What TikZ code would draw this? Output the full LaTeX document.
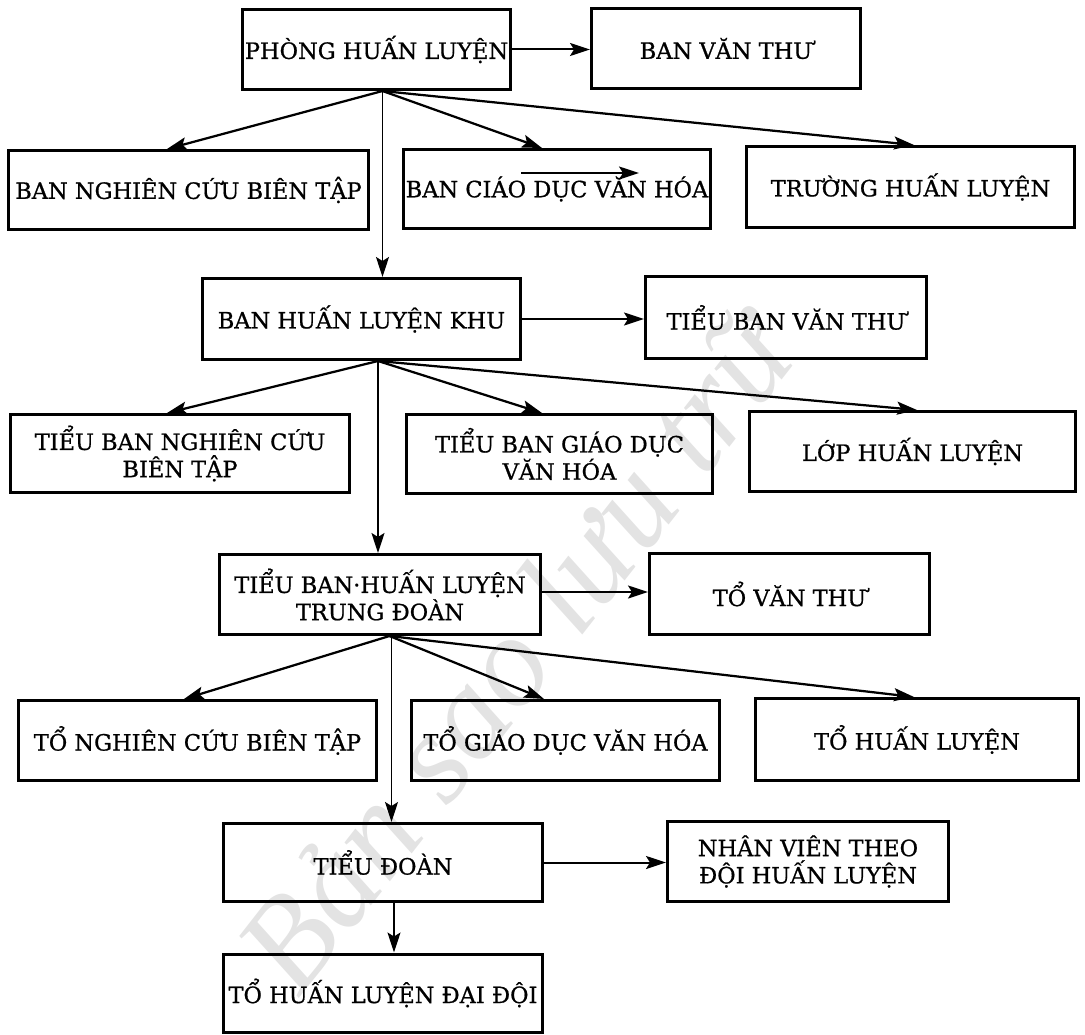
\documentclass[tikz,border=0pt]{standalone}
\usepackage{fontspec}
\setmainfont{DejaVu Serif}[BoldFont={DejaVu Serif}, BoldFeatures={FakeBold=0.8}]
\newfontfamily\wmfont{Liberation Serif}
\usetikzlibrary{arrows.meta}

\begin{document}
\begin{tikzpicture}[
  x=1cm, y=1cm,
  unit/.style={draw, line width=0.06cm, inner sep=1pt, align=center,
    font=\bfseries\fontsize{12.8}{15.5}\selectfont},
  tip/.style={-{Stealth[length=0.40cm, width=0.26cm, inset=0.08cm]}},
  fan/.style={tip, line width=0.045cm},
  down/.style={tip, line width=0.03cm},
  side/.style={tip, line width=0.04cm},
]
\useasboundingbox (0,0) rectangle (21.7,-20.7);

% watermark behind the chart
\node[rotate=52, text=black!11, font=\wmfont\itshape\fontsize{74}{80}\selectfont]
  (wm) at (10.3,-13.0) {Bản sao lưu trữ};

% level 1
\node[unit, minimum width=5.36cm, minimum height=1.60cm] (phong) at (7.53,-0.99) {PHÒNG HUẤN LUYỆN};
\node[unit, minimum width=5.38cm, minimum height=1.60cm] (vt1) at (14.52,-0.97) {BAN VĂN THƯ};
\node[unit, minimum width=7.20cm, minimum height=1.58cm] (nc1) at (3.77,-3.80) {BAN NGHIÊN CỨU BIÊN TẬP};
\node[unit, minimum width=6.14cm, minimum height=1.58cm] (gd1) at (11.14,-3.78) {BAN CIÁO DỤC VĂN HÓA};
\node[unit, minimum width=6.56cm, minimum height=1.62cm] (tr1) at (18.21,-3.74) {TRƯỜNG HUẤN LUYỆN};

% level 2
\node[unit, minimum width=6.36cm, minimum height=1.62cm] (khu) at (7.23,-6.38) {BAN HUẤN LUYỆN KHU};
\node[unit, minimum width=5.62cm, minimum height=1.64cm] (vt2) at (15.72,-6.35) {TIỂU BAN VĂN THƯ};
\node[unit, minimum width=6.78cm, minimum height=1.56cm] (nc2) at (3.60,-9.07) {TIỂU BAN NGHIÊN CỨU\\BIÊN TẬP};
\node[unit, minimum width=6.12cm, minimum height=1.58cm] (gd2) at (11.19,-9.08) {TIỂU BAN GIÁO DỤC\\VĂN HÓA};
\node[unit, minimum width=6.52cm, minimum height=1.60cm] (lop) at (18.25,-9.03) {LỚP HUẤN LUYỆN};

% level 3
\node[unit, minimum width=6.42cm, minimum height=1.60cm] (td) at (7.60,-11.89) {TIỂU BAN·HUẤN LUYỆN\\TRUNG ĐOÀN};
\node[unit, minimum width=5.60cm, minimum height=1.62cm] (vt3) at (15.79,-11.88) {TỔ VĂN THƯ};
\node[unit, minimum width=7.16cm, minimum height=1.60cm] (nc3) at (3.95,-14.81) {TỔ NGHIÊN CỨU BIÊN TẬP};
\node[unit, minimum width=6.16cm, minimum height=1.60cm] (gd3) at (11.31,-14.81) {TỔ GIÁO DỤC VĂN HÓA};
\node[unit, minimum width=6.46cm, minimum height=1.64cm] (hl3) at (18.34,-14.79) {TỔ HUẤN LUYỆN};

% level 4
\node[unit, minimum width=6.38cm, minimum height=1.56cm] (tdoan) at (7.66,-17.25) {TIỂU ĐOÀN};
\node[unit, minimum width=5.62cm, minimum height=1.60cm] (nv) at (16.16,-17.23) {NHÂN VIÊN THEO\\ĐỘI HUẤN LUYỆN};
\node[unit, minimum width=6.38cm, minimum height=1.56cm] (dd) at (7.66,-19.86) {TỔ HUẤN LUYỆN ĐẠI ĐỘI};

% fan-out points under each parent box
\coordinate (o1) at ([xshift=0.12cm]phong.south);
\coordinate (o2) at ([xshift=0.33cm]khu.south);
\coordinate (o3) at ([xshift=0.19cm]td.south);

% level 1 connectors
\draw[side] (phong.east) -- (phong.east -| vt1.west);
\draw[fan] (o1) -- ([xshift=-0.43cm]nc1.north);
\draw[fan] (o1) -- ([xshift=-0.30cm]gd1.north);
\draw[fan] (o1) -- ([xshift=0.07cm]tr1.north);
\draw[down] (o1) -- (o1 |- khu.north);
% stray overline arrow printed inside the culture box
\draw[side, line width=0.035cm] ([shift={(-0.72,0.32)}]gd1.center) -- ([shift={(1.64,0.32)}]gd1.center);

% level 2 connectors
\draw[side] (khu.east) -- (khu.east -| vt2.west);
\draw[fan] (o2) -- ([xshift=-0.26cm]nc2.north);
\draw[fan] (o2) -- ([xshift=-0.35cm]gd2.north);
\draw[fan] (o2) -- ([xshift=0.09cm]lop.north);
\draw[down] (o2) -- (o2 |- td.north);

% level 3 connectors
\draw[side] ([yshift=0.05cm]td.east) -- ([yshift=0.05cm]td.east -| vt3.west);
\draw[fan] (o3) -- ([xshift=-0.27cm]nc3.north);
\draw[fan] (o3) -- ([xshift=-0.43cm]gd3.north);
\draw[fan] (o3) -- ([xshift=-0.06cm]hl3.north);
\draw[down] ([xshift=0.04cm]o3) -- ([xshift=0.04cm]o3 |- tdoan.north);

% level 4 connectors
\draw[side] (tdoan.east) -- (tdoan.east -| nv.west);
\draw[down] ([xshift=0.22cm]tdoan.south) -- ([xshift=0.22cm]dd.north);
\end{tikzpicture}
\end{document}
